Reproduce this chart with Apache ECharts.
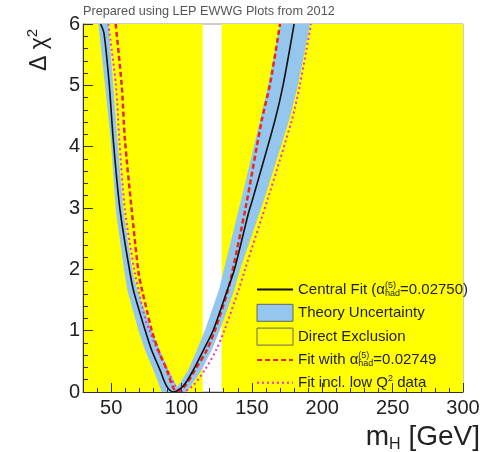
<!DOCTYPE html>
<html>
<head>
<meta charset="utf-8">
<script src="https://cdn.jsdelivr.net/npm/echarts@6/dist/echarts.min.js"></script>
<style>
  html, body { margin: 0; padding: 0; background: #fff; }
  #chart { width: 494px; height: 452px; }
</style>
</head>
<body>
<div id="chart"></div>
<script>
// Higgs mass fit: delta chi-squared versus m_H (GeV)
const massRange = [30, 300];
const deltaChi2Range = [0, 6];
const xTickValues = [50, 100, 150, 200, 250, 300];

// Mass windows excluded by direct searches [from, to]
const exclusionRanges = [[30, 115], [128.5, 300]];

// Central fit curve [m_H, delta chi2]
const centralFit = [
  [42.5, 6.0], [44.9, 5.85], [48.7, 5.0], [51.5, 4.11], [56.3, 2.97], [63.4, 1.94],
  [65.8, 1.66], [69.0, 1.40], [74.1, 1.01], [78.8, 0.68], [84.7, 0.36], [89.3, 0.10],
  [94.2, 0.0], [101.3, 0.10], [108.4, 0.36], [115.5, 0.68], [122.6, 1.01], [132.5, 1.66],
  [137.5, 1.99], [147.5, 2.91], [151.0, 3.18], [166.4, 4.43], [172.3, 5.02], [180.0, 6.0]
];

// Theory uncertainty band: lower envelope (outer edge) and upper envelope (inner edge)
const bandOuter = [
  [40.9, 6.0], [45.6, 5.0], [49.7, 4.11], [53.3, 2.97], [59.3, 1.97], [61.5, 1.66],
  [69.3, 1.01], [74.1, 0.68], [80.0, 0.36], [86.0, 0.0], [103.7, 0.0], [114.3, 0.36],
  [121.4, 0.68], [127.3, 1.01], [137.5, 1.66], [141.5, 1.99], [159.3, 3.18],
  [176.5, 4.43], [183.0, 5.02], [191.3, 6.0]
];
const bandInner = [
  [48.0, 6.0], [51.5, 5.0], [54.4, 4.11], [58.6, 2.97], [65.3, 1.94], [68.6, 1.66],
  [78.8, 1.01], [84.7, 0.68], [90.6, 0.36], [97.0, 0.08], [104.8, 0.36], [110.8, 0.68],
  [116.7, 1.01], [126.5, 1.66], [130.0, 1.99], [142.8, 3.18], [155.8, 4.43],
  [161.7, 5.02], [170.0, 6.0]
];

// Fit with alpha_had = 0.02749
const fitAlpha = [
  [53.2, 6.0], [57.5, 5.0], [59.8, 4.11], [64.6, 2.97], [69.5, 1.94], [72.0, 1.66],
  [75.3, 1.34], [78.8, 1.01], [83.5, 0.68], [89.5, 0.36], [93.5, 0.10], [96.6, 0.0],
  [102.5, 0.10], [109.6, 0.36], [117.9, 0.68], [123.8, 1.01], [133.0, 1.66],
  [135.5, 1.90], [145.5, 3.0], [157.0, 4.43], [162.9, 5.02], [170.0, 6.0]
];

// Fit including low Q^2 data
const fitLowQ2 = [
  [48.0, 6.0], [53.4, 5.0], [55.8, 4.11], [59.8, 2.97], [66.8, 1.94], [69.5, 1.66],
  [74.5, 1.17], [77.0, 1.01], [83.0, 0.68], [90.0, 0.36], [95.5, 0.10], [100.0, 0.0],
  [108.0, 0.10], [116.5, 0.36], [124.5, 0.68], [130.5, 1.01], [140.5, 1.66],
  [145.0, 1.99], [161.7, 3.18], [178.3, 4.43], [184.2, 5.02], [192.0, 6.0]
];

const FONT = "'Liberation Sans', Arial, sans-serif";
const YELLOW = '#ffff00';
const BLUE = '#94c6ee';
const RED = '#e8281e';
const MAGENTA = '#f030c8';
const INK = '#222';

const legendLabels = {
  'Central Fit': 'Central Fit ({g|α}{sup|(5)}{sub|had}=0.02750)',
  'Theory Uncertainty': 'Theory Uncertainty',
  'Direct Exclusion': 'Direct Exclusion',
  'Fit alpha': 'Fit with {g|α}{sup|(5)}{sub|had}=0.02749',
  'Fit low Q2': 'Fit incl. low Q{q|2} data'
};

const chart = echarts.init(document.getElementById('chart'), null, { renderer: 'canvas' });

const axisColor = '#333';
const hiddenMarker = { opacity: 0 };

chart.setOption({
  animation: false,
  backgroundColor: '#ffffff',
  textStyle: { fontFamily: FONT },
  title: {
    text: 'Prepared using LEP EWWG Plots from 2012',
    left: 83, top: 5, padding: 0,
    textStyle: { fontSize: 12.7, fontWeight: 'normal', color: '#555', fontFamily: FONT }
  },
  grid: {
    left: 83, right: 31, top: 24, bottom: 60,
    show: true, borderColor: '#999', borderWidth: 1, backgroundColor: 'transparent'
  },
  xAxis: [
    {
      type: 'value', min: massRange[0], max: massRange[1], interval: 10,
      position: 'bottom', z: 10,
      axisLine: { show: true, onZero: false, lineStyle: { color: axisColor, width: 1 } },
      axisTick: { show: true, inside: true, length: 4, lineStyle: { color: axisColor } },
      axisLabel: { show: false },
      splitLine: { show: false }
    },
    {
      type: 'value', min: massRange[0], max: massRange[1],
      position: 'bottom', z: 10,
      axisLine: { show: false, onZero: false },
      axisTick: { show: true, inside: true, length: 9, customValues: xTickValues, lineStyle: { color: axisColor } },
      axisLabel: { customValues: xTickValues, fontSize: 20, color: INK, margin: 6, fontFamily: FONT },
      splitLine: { show: false }
    }
  ],
  yAxis: {
    type: 'value', min: deltaChi2Range[0], max: deltaChi2Range[1], interval: 1, z: 10,
    axisLine: { show: true, onZero: false, lineStyle: { color: axisColor, width: 1 } },
    axisTick: { show: true, inside: true, length: 10, lineStyle: { color: axisColor } },
    minorTick: { show: true, splitNumber: 5, length: 5, lineStyle: { color: axisColor } },
    axisLabel: { fontSize: 20, color: INK, margin: 3, fontFamily: FONT },
    splitLine: { show: false },
    minorSplitLine: { show: false }
  },
  legend: {
    orient: 'vertical', left: 256, top: 281, padding: 0,
    itemWidth: 36, itemHeight: 17, itemGap: 5.8,
    data: [
      { name: 'Central Fit', itemStyle: hiddenMarker },
      { name: 'Theory Uncertainty', icon: 'rect', itemStyle: { color: BLUE, borderColor: '#666', borderWidth: 1 } },
      { name: 'Direct Exclusion', icon: 'rect', itemStyle: { color: YELLOW, borderColor: '#666', borderWidth: 1 } },
      { name: 'Fit alpha', itemStyle: hiddenMarker },
      { name: 'Fit low Q2', itemStyle: hiddenMarker }
    ],
    formatter: name => legendLabels[name],
    textStyle: {
      fontSize: 15, color: INK, fontFamily: FONT, lineHeight: 17,
      rich: {
        g: { fontSize: 15, fontFamily: FONT, color: INK, lineHeight: 17 },
        sup: { fontSize: 9, fontFamily: FONT, color: INK, verticalAlign: 'top', lineHeight: 9, width: 0 },
        sub: { fontSize: 9, fontFamily: FONT, color: INK, verticalAlign: 'bottom', lineHeight: 9 },
        q: { fontSize: 9, fontFamily: FONT, color: INK, verticalAlign: 'top', lineHeight: 9 }
      }
    }
  },
  graphic: [
    {
      type: 'text', x: 38, y: 50, rotation: Math.PI / 2,
      style: {
        text: '{a|Δ χ}{b|2}',
        align: 'center', verticalAlign: 'middle',
        rich: {
          a: { fontSize: 23, fontFamily: FONT, fill: INK, lineHeight: 26, verticalAlign: 'bottom' },
          b: { fontSize: 15, fontFamily: FONT, fill: INK, lineHeight: 26, verticalAlign: 'top' }
        }
      }
    },
    {
      type: 'text', x: 480, y: 437,
      style: {
        text: '{a|m}{b|H}{a| [GeV]}',
        align: 'right', verticalAlign: 'middle',
        rich: {
          a: { fontSize: 28, fontFamily: FONT, fill: INK, lineHeight: 32, verticalAlign: 'middle' },
          b: { fontSize: 16, fontFamily: FONT, fill: INK, lineHeight: 32, verticalAlign: 'bottom' }
        }
      }
    },
    {
      type: 'text', x: 380, y: 151,
      style: {
        text: '2012', align: 'center', verticalAlign: 'middle',
        font: 'bold 36px ' + FONT, fill: '#000'
      }
    }
  ],
  series: [
    {
      name: 'Direct Exclusion',
      type: 'custom',
      z: 1,
      clip: true,
      itemStyle: { color: YELLOW },
      data: exclusionRanges,
      renderItem: (params, api) => {
        const p0 = api.coord([api.value(0), deltaChi2Range[1]]);
        const p1 = api.coord([api.value(1), deltaChi2Range[0]]);
        return {
          type: 'rect',
          shape: { x: p0[0], y: p0[1], width: p1[0] - p0[0], height: p1[1] - p0[1] },
          style: { fill: YELLOW }
        };
      }
    },
    {
      name: 'Theory Uncertainty',
      type: 'custom',
      z: 2,
      clip: true,
      itemStyle: { color: BLUE },
      data: [[0]],
      renderItem: (params, api) => {
        const outline = bandOuter.concat(bandInner.slice().reverse());
        const points = outline.map(p => api.coord(p));
        return {
          type: 'polygon',
          shape: { points: points },
          style: { fill: BLUE }
        };
      }
    },
    {
      name: 'Fit low Q2',
      type: 'line', z: 3, showSymbol: false, symbol: 'none', smooth: 0.3, clip: true,
      data: fitLowQ2,
      lineStyle: { color: MAGENTA, width: 2, type: [2, 3] },
      itemStyle: { color: MAGENTA }
    },
    {
      name: 'Fit alpha',
      type: 'line', z: 4, showSymbol: false, symbol: 'none', smooth: 0.3, clip: true,
      data: fitAlpha,
      lineStyle: { color: RED, width: 2.5, type: [5, 3] },
      itemStyle: { color: RED }
    },
    {
      name: 'Central Fit',
      type: 'line', z: 5, showSymbol: false, symbol: 'none', smooth: 0.3, clip: true,
      data: centralFit,
      lineStyle: { color: '#111', width: 1.6 },
      itemStyle: { color: '#111' }
    }
  ]
});
</script>
</body>
</html>
